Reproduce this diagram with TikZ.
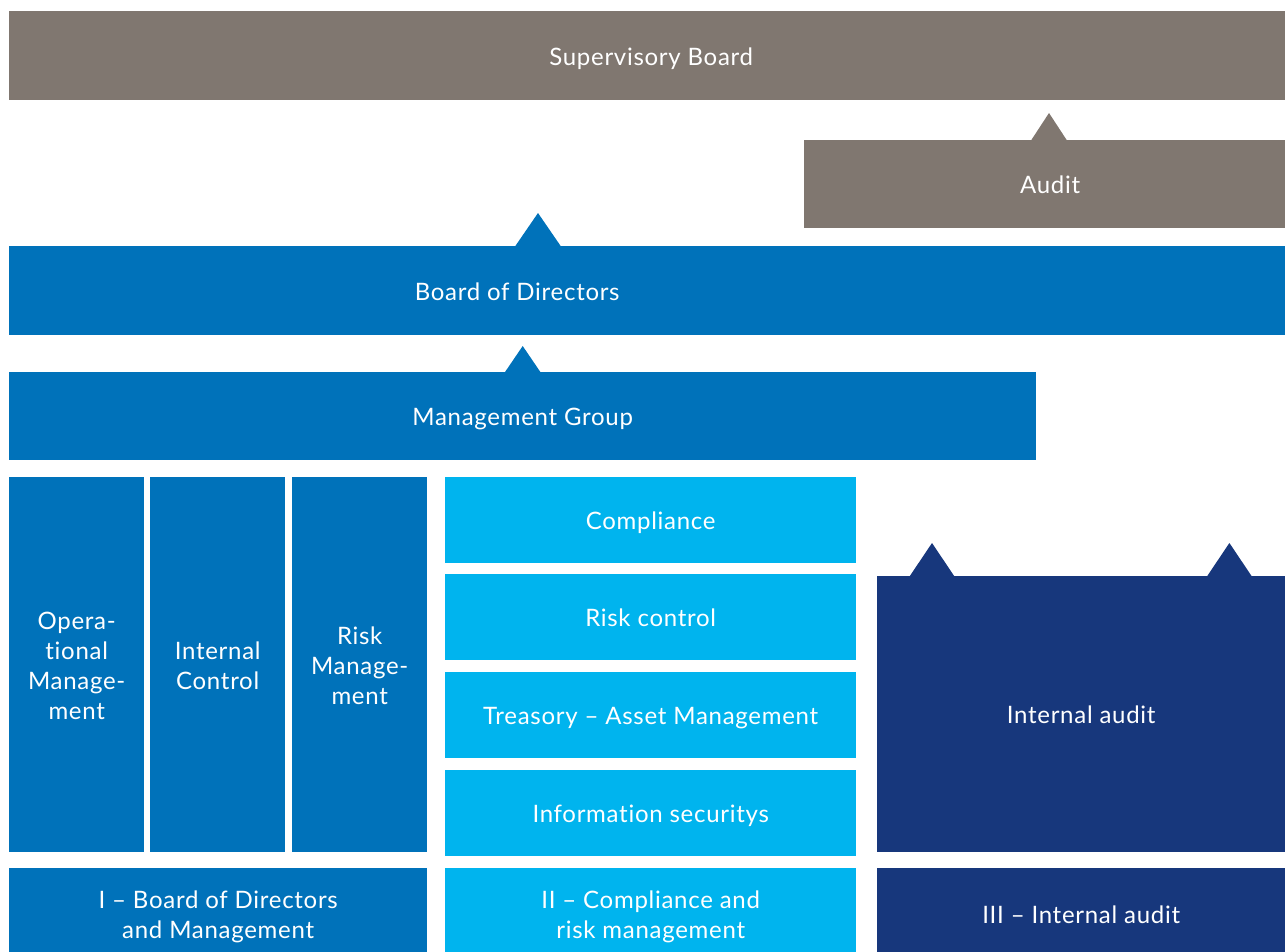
\documentclass[tikz,border=0pt]{standalone}
\usepackage{fontspec}
\setmainfont{Lato}[Ligatures=NoCommon, LetterSpace=3]
\definecolor{boardgray}{HTML}{807770}
\definecolor{firstblue}{HTML}{0072BA}
\definecolor{secondblue}{HTML}{00B4EE}
\definecolor{thirdblue}{HTML}{17377C}
\newcommand\liftstrut{\rule[-5pt]{0pt}{29pt}}
\tikzset{
  block/.style={anchor=north west, inner sep=0pt, text=white, align=center,
    font=\fontsize{24}{30}\selectfont},
}
\begin{document}
\begin{tikzpicture}[x=1pt, y=-1pt]
    \useasboundingbox (0, 0) rectangle (1285, 951);
    \clip (0, 0) rectangle (1285, 951);
    % top levels
    \node[block, fill=boardgray, minimum width=1284pt, minimum height=89pt] (super) at (9, 11) {\liftstrut Supervisory Board};
    \node[block, fill=boardgray, minimum width=492pt, minimum height=88pt] (audit) at (804, 140) {\liftstrut Audit};
    \node[block, fill=firstblue, minimum width=1276pt, minimum height=89pt] (bod) at (9, 246) {\liftstrut\makebox[1016pt]{Board of Directors}\hspace{260pt}};
    \node[block, fill=firstblue, minimum width=1027pt, minimum height=88pt] (mgroup) at (9, 372) {\liftstrut Management Group};
    % first line
    \foreach \x/\n/\t in {9/opm/\liftstrut Opera-\\tional\\Manage-\\\liftstrut ment, 150/ictrl/\liftstrut Internal\\\liftstrut Control, 292/riskm/\liftstrut Risk\\Manage-\\\liftstrut ment} {
        \node[block, fill=firstblue, minimum width=135pt, minimum height=375pt] (\n) at (\x, 477) {\t};
    };
    % second line
    \foreach \y/\n/\t in {477/compl/Compliance, 574/riskc/Risk control, 672/treas/Treasory – Asset Management, 770/infosec/Information securitys} {
        \node[block, fill=secondblue, minimum width=411pt, minimum height=85.5pt] (\n) at (445, \y) {\liftstrut\t};
    };
    % third line
    \node[block, fill=thirdblue, minimum width=408pt, minimum height=276pt] (intaudit) at (877, 576) {\liftstrut Internal audit};
    % line labels
    \node[block, fill=firstblue, minimum width=418pt, minimum height=92pt] (lineI) at (9, 868) {\liftstrut I – Board of Directors\\\liftstrut and Management};
    \node[block, fill=secondblue, minimum width=411pt, minimum height=92pt] (lineII) at (445, 868) {\liftstrut II – Compliance and\\\liftstrut risk management};
    \node[block, fill=thirdblue, minimum width=408pt, minimum height=92pt] (lineIII) at (877, 868) {\liftstrut III – Internal audit};
    % reporting tips
    \coordinate (tipA) at ([xshift=245pt]audit.north west);
    \coordinate (tipB) at ([xshift=529pt]bod.north west);
    \coordinate (tipM) at (mgroup.north);
    \coordinate (tipL) at ([xshift=55pt]intaudit.north west);
    \coordinate (tipR) at ([xshift=-56pt]intaudit.north east);
    \foreach \p/\w/\h/\c in {tipA/18/27/boardgray, tipB/23/33/firstblue, tipM/18/26/firstblue, tipL/22.5/33/thirdblue, tipR/22.5/33/thirdblue} {
        \fill[\c] ([xshift=-\w pt, yshift=-0.5pt]\p) -- ([xshift=\w pt, yshift=-0.5pt]\p) -- ([yshift=\h pt]\p) -- cycle;
    };
\end{tikzpicture}
\end{document}
